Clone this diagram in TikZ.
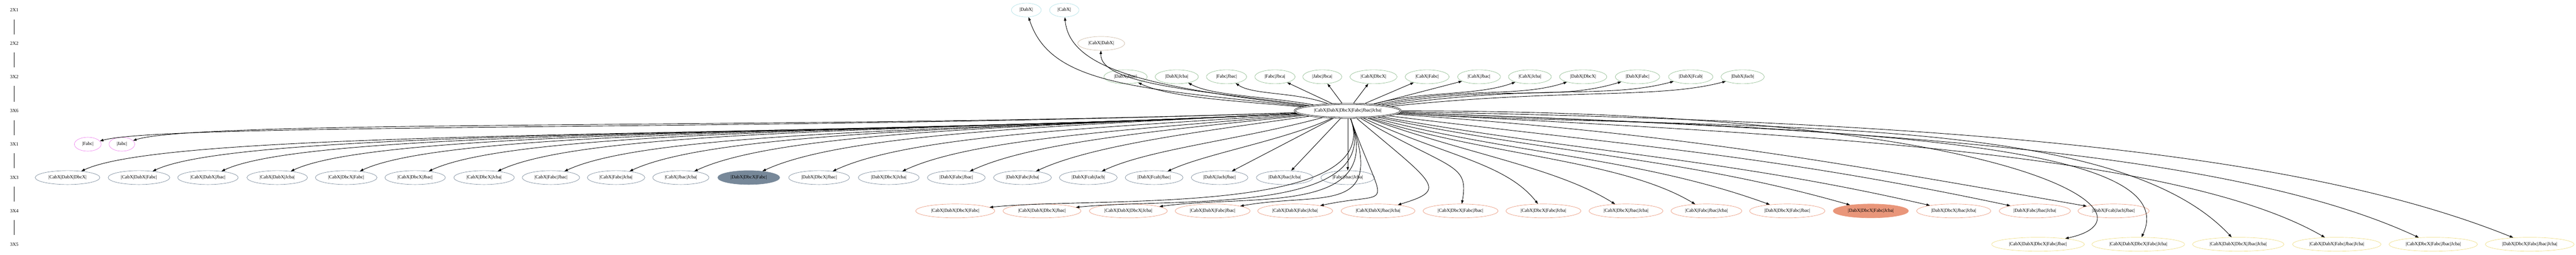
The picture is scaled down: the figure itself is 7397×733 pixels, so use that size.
\documentclass[tikz,border=0pt]{standalone}
\usepackage{fontspec}
\setmainfont{Liberation Serif}
\usetikzlibrary{arrows.meta, shapes.geometric}

\definecolor{gvblue}{RGB}{176,224,230}
\definecolor{gvtan}{RGB}{205,186,165}
\definecolor{gvgreen}{RGB}{143,188,143}
\definecolor{gvviolet}{RGB}{238,130,238}
\definecolor{gvslate}{RGB}{119,136,153}
\definecolor{gvsalmon}{RGB}{233,150,122}
\definecolor{gvgold}{RGB}{238,221,130}

% one unit is 0.1pt, so the whole graph is drawn at a tenth of its size
\tikzset{
	gv/.style={ellipse, draw, line width=0.1pt, inner xsep=1.1pt, inner ysep=0pt, minimum height=4pt},
	bluenode/.style={gv, draw=gvblue},
	tannode/.style={gv, draw=gvtan},
	greennode/.style={gv, draw=gvgreen},
	violetnode/.style={gv, draw=gvviolet},
	slatenode/.style={gv, draw=gvslate},
	salmonnode/.style={gv, draw=gvsalmon},
	goldnode/.style={gv, draw=gvgold},
	topnode/.style={gv, draw=black, line width=0.12pt, double, double distance=0.2pt, outer sep=0.25pt},
	ranklabel/.style={inner sep=0pt, minimum height=4.9pt},
	link/.style={line width=0.13pt, -{Triangle[length=1pt, width=0.7pt]}}
}

\begin{document}
\begin{tikzpicture}[x=0.1pt, y=0.1pt, font=\fontsize{1.38}{1.6}\selectfont]
	\useasboundingbox (0,0) rectangle (7397,733);
	% rank column on the left
	\foreach \n/\t/\y in {r1/2X1/704, r2/2X2/608, r3/3X2/512, r4/3X6/414,
		r5/3X1/318, r6/3X3/222, r7/3X4/126, r8/3X5/30}
		\node[ranklabel] (\n) at (41,\y) {\t};
	\draw[line width=0.1pt] (r1) -- (r2) -- (r3) -- (r4) -- (r5) -- (r6) -- (r7) -- (r8);

	% the full set
	\node[topnode] (full) at (3870,414) {|CabX|DabX|DbcX|Fabc|Jbac|Jcba|};

	% rank 2X1 and 2X2
	\node[bluenode] (DabX) at (2947,704) {|DabX|};
	\node[bluenode] (CabX) at (3056,704) {|CabX|};
	\node[tannode] (CabXDabX) at (3162,608) {|CabX|DabX|};

	% rank 3X2
	\foreach \x/\n/\t in {3232/DabXJbac/|DabX|Jbac|, 3379/DabXJcba/|DabX|Jcba|,
		3522/FabcJbac/|Fabc|Jbac|, 3661/FabcJbca/|Fabc|Jbca|, 3797/JabcJbca/|Jabc|Jbca|,
		3944/CabXDbcX/|CabX|DbcX|, 4098/CabXFabc/|CabX|Fabc|, 4247/CabXJbac/|CabX|Jbac|,
		4393/CabXJcba/|CabX|Jcba|, 4546/DabXDbcX/|DabX|DbcX|, 4702/DabXFabc/|DabX|Fabc|,
		4855/DabXFcab/|DabX|Fcab|, 5004/DabXJacb/|DabX|Jacb|}
		\node[greennode] (\n) at (\x,512) {\t};

	% rank 3X1
	\node[violetnode] (Fabc) at (252,318) {|Fabc|};
	\node[violetnode] (Jabc) at (350,318) {|Jabc|};

	% rank 3X3
	\foreach \x/\n/\t in {194/CabXDabXDbcX/|CabX|DabX|DbcX|, 399/CabXDabXFabc/|CabX|DabX|Fabc|,
		597/CabXDabXJbac/|CabX|DabX|Jbac|, 796/CabXDabXJcba/|CabX|DabX|Jcba|,
		994/CabXDbcXFabc/|CabX|DbcX|Fabc|, 1192/CabXDbcXJbac/|CabX|DbcX|Jbac|,
		1390/CabXDbcXJcba/|CabX|DbcX|Jcba|, 1582/CabXFabcJbac/|CabX|Fabc|Jbac|,
		1769/CabXFabcJcba/|CabX|Fabc|Jcba|, 1955/CabXJbacJcba/|CabX|Jbac|Jcba|,
		2352/DabXDbcXJbac/|DabX|DbcX|Jbac|, 2552/DabXDbcXJcba/|DabX|DbcX|Jcba|,
		2746/DabXFabcJbac/|DabX|Fabc|Jbac|, 2936/DabXFabcJcba/|DabX|Fabc|Jcba|,
		3125/DabXFcabJacb/|DabX|Fcab|Jacb|, 3314/DabXFcabJbac/|DabX|Fcab|Jbac|,
		3502/DabXJacbJbac/|DabX|Jacb|Jbac|, 3689/DabXJbacJcba/|DabX|Jbac|Jcba|,
		3870/FabcJbacJcba/|Fabc|Jbac|Jcba|}
		\node[slatenode] (\n) at (\x,222) {\t};
	\node[slatenode, fill=gvslate] (DabXDbcXFabc) at (2150,222) {|DabX|DbcX|Fabc|};

	% rank 3X4
	\foreach \x/\n/\t in {2743/CabXDabXDbcXFabc/|CabX|DabX|DbcX|Fabc|,
		2992/CabXDabXDbcXJbac/|CabX|DabX|DbcX|Jbac|, 3240/CabXDabXDbcXJcba/|CabX|DabX|DbcX|Jcba|,
		3482/CabXDabXFabcJbac/|CabX|DabX|Fabc|Jbac|, 3719/CabXDabXFabcJcba/|CabX|DabX|Fabc|Jcba|,
		3957/CabXDabXJbacJcba/|CabX|DabX|Jbac|Jcba|, 4194/CabXDbcXFabcJbac/|CabX|DbcX|Fabc|Jbac|,
		4432/CabXDbcXFabcJcba/|CabX|DbcX|Fabc|Jcba|, 4669/CabXDbcXJbacJcba/|CabX|DbcX|Jbac|Jcba|,
		4900/CabXFabcJbacJcba/|CabX|Fabc|Jbac|Jcba|, 5132/DabXDbcXFabcJbac/|DabX|DbcX|Fabc|Jbac|,
		5610/DabXDbcXJbacJcba/|DabX|DbcX|Jbac|Jcba|, 5843/DabXFabcJbacJcba/|DabX|Fabc|Jbac|Jcba|,
		6069/DabXFcabJacbJbac/|DabX|Fcab|Jacb|Jbac|}
		\node[salmonnode] (\n) at (\x,126) {\t};
	\node[salmonnode, fill=gvsalmon] (DabXDbcXFabcJcba) at (5372,126) {|DabX|DbcX|Fabc|Jcba|};

	% rank 3X5
	\foreach \x/\n/\t in {5852/CabXDabXDbcXFabcJbac/|CabX|DabX|DbcX|Fabc|Jbac|,
		6140/CabXDabXDbcXFabcJcba/|CabX|DabX|DbcX|Fabc|Jcba|,
		6427/CabXDabXDbcXJbacJcba/|CabX|DabX|DbcX|Jbac|Jcba|,
		6710/CabXDabXFabcJbacJcba/|CabX|DabX|Fabc|Jbac|Jcba|,
		6987/CabXDbcXFabcJbacJcba/|CabX|DbcX|Fabc|Jbac|Jcba|,
		7264/DabXDbcXFabcJbacJcba/|DabX|DbcX|Fabc|Jbac|Jcba|}
		\node[goldnode] (\n) at (\x,30) {\t};

	% straight edges
	\foreach \n in {FabcJbca, JabcJbca, CabXDbcX, CabXFabc, CabXJbac,
		DabXJacbJbac, DabXJbacJcba, FabcJbacJcba}
		\draw[link] (full) -- (\n);

	% curved edges: target/out/in/out distance/in distance (in units)
	\foreach \n/\o/\i/\a/\b [evaluate=\a as \da using \a/10, evaluate=\b as \db using \b/10] in
		{DabX/174/-72/500/200, CabX/173/-85/420/160, CabXDabX/172/-92/300/100,
		DabXJbac/175/-25/200/100, DabXJcba/170/-28/150/80, FabcJbac/160/-35/100/60,
		CabXJcba/15/-160/150/120, DabXDbcX/12/-162/250/150, DabXFabc/10/-163/350/200,
		DabXFcab/8/-165/450/200, DabXJacb/6/-165/500/200,
		Fabc/182/15/1500/200, Jabc/182/18/1400/200,
		CabXDabXDbcX/183/25/1400/300, CabXDabXFabc/183/25/1300/300,
		CabXDabXJbac/183/25/1250/300, CabXDabXJcba/183/25/1150/300,
		CabXDbcXFabc/183/25/1100/300, CabXDbcXJbac/183/25/1000/300,
		CabXDbcXJcba/183/25/950/300, CabXFabcJbac/183/25/900/280,
		CabXFabcJcba/183/25/800/280, CabXJbacJcba/183/25/700/280,
		DabXDbcXFabc/183/25/650/260, DabXDbcXJbac/184/25/550/250,
		DabXDbcXJcba/185/25/500/220, DabXFabcJbac/186/25/400/200,
		DabXFabcJcba/188/25/300/180, DabXFcabJacb/195/25/250/150,
		DabXFcabJbac/205/25/150/120,
		CabXDabXDbcXFabc/-70/6/300/300, CabXDabXDbcXJbac/-70/6/300/280,
		CabXDabXDbcXJcba/-70/8/300/260, CabXDabXFabcJbac/-70/10/300/240,
		CabXDabXFabcJcba/-70/12/300/220,
		CabXDabXJbacJcba/-40/17/300/150, CabXDbcXFabcJbac/-30/80/300/120,
		CabXDbcXFabcJcba/-25/128/250/150, CabXDbcXJbacJcba/-20/148/300/200,
		CabXFabcJbacJcba/-18/149/350/250, DabXDbcXFabcJbac/-15/160/400/400,
		DabXDbcXFabcJcba/-12/164/500/500, DabXDbcXJbacJcba/-10/167/600/600,
		DabXFabcJbacJcba/-7/168/700/700, DabXFcabJacbJbac/-4/170/800/800,
		CabXDabXDbcXFabcJbac/0/12/1800/300, CabXDabXDbcXFabcJcba/-2/65/1300/300,
		CabXDabXDbcXJbacJcba/-3/133/1000/500, CabXDabXFabcJbacJcba/-3/150/1100/500,
		CabXDbcXFabcJbacJcba/-2/155/1300/600, DabXDbcXFabcJbacJcba/-1/158/1600/650}
		\draw[link] (full) to[out=\o, in=\i, out distance=\da pt, in distance=\db pt] (\n);
\end{tikzpicture}
\end{document}
